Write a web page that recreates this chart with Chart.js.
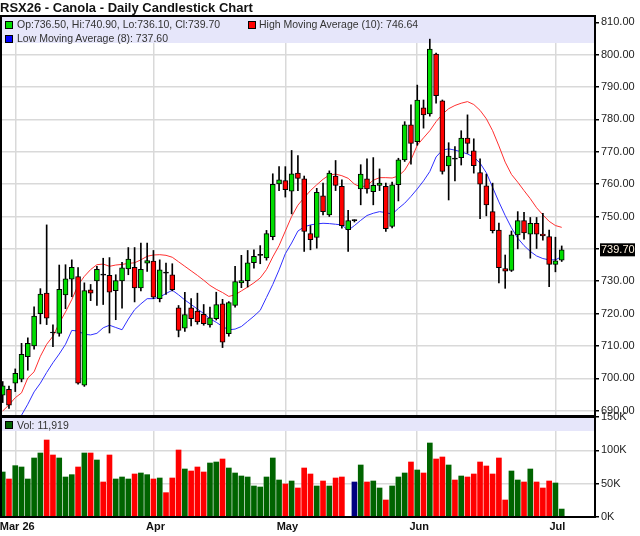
<!DOCTYPE html>
<html>
<head>
<meta charset="utf-8">
<script src="https://cdn.jsdelivr.net/npm/chart.js@4.4.1/dist/chart.umd.min.js"></script>
<style>
  body { margin: 0; background: #fff; font-family: "Liberation Sans", Arial, sans-serif; }
  #wrap { position: relative; width: 640px; height: 536px; overflow: hidden; }
  #priceCv { position: absolute; left: 0; top: 0; }
  #volCv { position: absolute; left: 0; top: 405px; }
  .txt { position: absolute; white-space: nowrap; color: #333; font-size: 10.5px; line-height: 12px; }
  .sq { position: absolute; width: 6px; height: 6px; border: 1px solid #000; }
  #title { position: absolute; left: 0; top: 0; font-size: 13px; font-weight: bold; color: #111; line-height: 16px; white-space: nowrap; }
</style>
</head>
<body>
<div id="wrap">
  <canvas id="priceCv" width="640" height="417"></canvas>
  <canvas id="volCv" width="640" height="131"></canvas>
  <div id="title">RSX26 - Canola - Daily Candlestick Chart</div>
  <div class="sq" style="left:5px;top:21px;background:#00dd00"></div>
  <div class="txt" style="left:17px;top:18px">Op:736.50, Hi:740.90, Lo:736.10, Cl:739.70</div>
  <div class="sq" style="left:248px;top:21px;background:#ff0000"></div>
  <div class="txt" style="left:259px;top:18px">High Moving Average (10): 746.64</div>
  <div class="sq" style="left:5px;top:35px;background:#0000ff"></div>
  <div class="txt" style="left:17px;top:32px">Low Moving Average (8): 737.60</div>
  <div class="sq" style="left:5px;top:421px;background:#006400"></div>
  <div class="txt" style="left:17px;top:419px">Vol: 11,919</div>
</div>
<script>
// daily bars, oldest first
const opens = [694.8,696.6,698.5,699.7,706.7,710.0,720.0,726.3,714.0,713.9,
  725.8,730.6,731.4,697.9,727.3,730.1,731.9,731.8,727.1,730.1,
  733.8,734.3,727.9,735.6,736.2,724.6,732.5,732.0,721.8,715.5,
  721.8,720.8,719.8,716.5,718.4,723.0,713.8,722.5,729.5,730.2,
  735.7,738.0,737.2,743.8,760.1,761.1,757.8,763.4,761.6,744.7,
  743.5,756.4,750.5,762.5,759.3,745.9,748.7,758.5,761.6,757.7,
  759.6,759.3,746.9,759.8,767.5,778.3,773.1,783.6,781.7,800.2,
  785.7,765.6,767.7,768.2,774.2,770.3,763.6,759.5,751.5,745.8,
  733.9,733.3,744.3,748.7,744.5,747.9,744.6,743.8,735.2,736.5];
const highs = [699.0,697.6,702.9,710.8,712.5,722.1,727.7,747.4,716.5,735.0,
  735.1,736.6,734.2,729.5,729.0,734.6,737.1,737.3,732.0,735.8,
  740.4,740.4,741.8,741.8,739.5,736.6,735.6,735.4,722.5,726.6,
  724.6,726.3,722.8,722.0,726.6,724.4,723.7,734.6,738.0,739.5,
  739.7,741.0,745.7,763.2,765.4,765.4,770.4,768.8,762.5,747.2,
  758.7,760.3,764.1,767.3,761.3,751.9,749.0,766.0,767.8,768.2,
  764.7,760.3,760.6,768.0,779.3,784.5,790.6,786.0,804.8,800.5,
  786.0,772.8,771.6,776.5,781.4,774.0,767.8,763.1,760.3,748.0,
  738.1,745.5,751.5,751.3,749.7,749.7,751.0,745.8,743.6,740.9];
const lows = [692.5,690.7,695.9,698.9,702.5,709.0,716.8,716.6,709.8,713.0,
  721.5,725.2,698.2,697.5,724.0,722.5,722.8,714.0,718.1,721.7,
  732.0,723.6,727.0,733.0,724.6,723.6,725.9,727.0,712.8,714.5,
  716.2,716.7,716.4,715.8,718.0,709.5,713.0,722.0,728.0,728.2,
  734.0,735.4,736.5,742.8,758.0,756.0,750.8,758.0,739.2,739.7,
  740.2,750.5,750.0,758.0,746.4,739.2,748.3,753.6,757.2,753.6,
  758.0,745.4,746.5,754.8,767.0,766.2,772.0,777.3,781.0,785.0,
  763.1,755.1,761.0,765.9,769.5,763.4,749.3,750.2,744.9,729.5,
  727.8,733.0,740.0,743.0,737.1,740.1,742.7,728.3,732.9,736.1];
const closes = [697.7,691.7,701.5,707.4,710.8,719.2,726.0,718.6,714.0,727.5,
  730.7,734.3,698.5,727.1,726.3,733.7,731.9,726.6,730.2,734.1,
  736.8,727.9,733.7,736.4,725.1,733.5,732.5,727.4,714.8,719.7,
  718.4,717.4,716.9,718.7,722.8,711.2,723.4,729.9,730.2,735.7,
  737.7,738.0,744.7,759.9,761.3,758.3,763.2,761.8,745.4,742.8,
  757.5,751.5,763.4,759.6,747.2,748.7,748.7,763.1,758.5,759.6,
  760.3,746.2,759.8,767.5,778.3,772.6,786.0,781.4,801.7,787.3,
  763.9,768.7,767.7,774.2,772.6,765.7,760.0,753.6,745.6,734.2,
  733.1,744.3,748.7,744.9,747.9,744.5,744.0,735.2,736.3,739.7];
// volume in thousands
const volumes = [67.5,57,77,75,57,88.5,96,115.5,93,88.5,
  60,63.5,75,96,96,85.5,52.5,93,57,60,
  57,64.5,66,63.5,57,58.5,36.5,58.5,100.5,72,
  69,75,67.5,81,82.5,87,73.5,66,61.5,60,
  46.5,45,60,88.5,55.5,49.5,54,43.5,73.5,64.5,
  46.5,54,46.5,58.5,60,null,52.5,78,52.5,54,
  43.5,25.5,46.5,60,66,82.5,70.5,66,111,87,
  90,78,55.5,61.5,60,64.5,82.5,76.5,64.5,88.5,
  25.5,69,55.5,52.5,72,52.5,43.5,54,51,11.919];
// High Moving Average (10) and Low Moving Average (8)
const hiMA = [689.9,691.8,694.0,695.5,700.1,702.0,706.8,710.5,713.0,717.0,
  720.5,724.3,728.8,731.5,733.6,735.1,735.3,734.6,735.0,735.2,
  735.5,735.7,736.6,737.7,738.1,738.2,738.0,737.4,736.0,734.6,
  733.2,731.8,730.3,728.7,727.5,726.5,725.3,725.8,727.0,728.2,
  729.5,731.0,733.6,737.5,741.0,745.5,750.0,753.5,755.8,758.0,
  759.8,761.5,762.8,763.1,762.6,761.8,760.0,759.1,759.6,761.2,
  762.0,762.0,761.9,762.5,764.3,767.5,772.0,774.3,776.5,779.3,
  781.6,783.3,784.3,785.0,785.5,784.6,782.8,780.2,776.5,771.8,
  766.8,763.0,760.6,758.0,755.5,752.7,750.5,748.5,747.2,746.64];
const loMA = [null,683.5,686.0,688.6,692.0,695.8,698.5,701.8,704.8,707.5,
  710.5,714.8,714.6,713.6,713.4,713.9,715.6,716.4,715.7,715.0,
  718.3,721.2,723.0,724.6,724.6,725.1,726.2,727.2,725.8,724.2,
  722.8,721.4,720.0,718.4,717.3,716.0,715.0,715.2,716.0,717.6,
  719.2,721.0,725.0,729.0,733.5,738.5,741.8,745.5,746.8,747.4,
  747.7,747.9,747.8,747.6,747.4,745.7,747.2,748.8,750.3,751.0,
  751.5,751.2,750.7,752.5,754.1,756.2,758.5,761.0,763.9,768.4,
  770.5,770.9,770.5,770.0,769.3,768.4,766.5,763.5,759.0,754.5,
  750.3,746.5,743.3,741.0,739.2,737.8,737.0,736.6,736.6,737.6];
const monthIdx = [2, 24, 45, 66, 88];
const monthLabels = ['Mar 26', 'Apr', 'May', 'Jun', 'Jul'];
const priceTicks = [690, 700, 710, 720, 730, 740, 750, 760, 770, 780, 790, 800, 810];
const volTicks = [0, 50, 100, 150];

const FONT = '"Liberation Sans", Arial, sans-serif';
const GRID = '#d9d9d9';
const UP = '#00dd00', DOWN = '#ff0000';
const VUP = '#006400', VDOWN = '#ff0000', VFLAT = '#000080';
const X_MIN = -0.27, X_MAX = 94.3;

const idx = closes.map((_, i) => i);
const last = closes.length - 1;

// frame + band plugins
const frame = {
  id: 'frame',
  beforeDatasetsDraw(chart, args, opts) {
    const a = chart.chartArea, c = chart.ctx;
    c.save();
    c.fillStyle = '#e6e6fa';
    c.fillRect(a.left, a.top, a.right - a.left, opts.band);
    c.restore();
  },
  afterDraw(chart) {
    const a = chart.chartArea, c = chart.ctx;
    c.save();
    c.strokeStyle = '#000';
    c.lineWidth = 2;
    c.strokeRect(a.left, a.top, a.right - a.left, a.bottom - a.top);
    c.restore();
  }
};

// last close tag on the price axis
const lastTag = {
  id: 'lastTag',
  afterDraw(chart) {
    const y = chart.scales.y.getPixelForValue(closes[last]);
    const c = chart.ctx;
    c.save();
    c.fillStyle = '#000';
    c.fillRect(600, y - 6.5, 35, 13);
    c.fillStyle = '#fff2e0';
    c.font = '11px ' + FONT;
    c.textBaseline = 'middle';
    c.fillText(closes[last].toFixed(2), 601, y + 0.5);
    c.restore();
  }
};

const xGrid = { color: GRID, lineWidth: 1.5, drawTicks: false, offset: false };

new Chart(document.getElementById('priceCv'), {
  type: 'bar',
  data: {
    datasets: [
      { type: 'line', data: idx.map(i => ({ x: i, y: hiMA[i] })), borderColor: '#ff3030', borderWidth: 1,
        pointRadius: 0, order: 4 },
      { type: 'line', data: idx.map(i => ({ x: i, y: loMA[i] })), borderColor: '#3030ff', borderWidth: 1,
        pointRadius: 0, order: 3 },
      { data: idx.map(i => ({ x: i, y: [lows[i], highs[i]] })), backgroundColor: '#000',
        barThickness: 1, grouped: false, order: 2 },
      { data: idx.map(i => ({ x: i, y: [opens[i], closes[i]] })),
        backgroundColor: idx.map(i => closes[i] > opens[i] ? UP : closes[i] < opens[i] ? DOWN : '#000'),
        borderColor: '#000', borderWidth: 1, borderSkipped: false, minBarLength: 1,
        barThickness: 5, grouped: false, order: 1 }
    ]
  },
  options: {
    responsive: false,
    animation: false,
    layout: { padding: { left: 1, right: 0, top: 16, bottom: 1 } },
    plugins: { legend: { display: false }, tooltip: { enabled: false }, frame: { band: 27 } },
    scales: {
      x: {
        type: 'linear', min: X_MIN, max: X_MAX, offset: false,
        afterBuildTicks: s => { s.ticks = monthIdx.map(v => ({ value: v })); },
        ticks: { display: false },
        grid: xGrid,
        border: { display: false }
      },
      y: {
        position: 'right', min: 688.35, max: 811.95,
        afterBuildTicks: s => { s.ticks = priceTicks.map(v => ({ value: v })); },
        afterFit: s => { s.width = 45; s.paddingTop = 0; s.paddingBottom = 0; },
        ticks: { callback: v => Number(v).toFixed(2), color: '#222', padding: 2, font: { size: 11, family: FONT } },
        grid: { color: GRID, lineWidth: 1.5, tickLength: 4, tickColor: '#000' },
        border: { display: false }
      }
    }
  },
  plugins: [frame, lastTag]
});

new Chart(document.getElementById('volCv'), {
  type: 'bar',
  data: {
    datasets: [{
      data: idx.map(i => ({ x: i, y: volumes[i] })),
      backgroundColor: idx.map(i => i === 0 || closes[i] > closes[i - 1] ? VUP : closes[i] < closes[i - 1] ? VDOWN : VFLAT),
      barThickness: 5
    }]
  },
  options: {
    responsive: false,
    animation: false,
    layout: { padding: { left: 1, right: 0, top: 12, bottom: 0 } },
    plugins: { legend: { display: false }, tooltip: { enabled: false }, frame: { band: 14 } },
    scales: {
      x: {
        type: 'linear', min: X_MIN, max: X_MAX, offset: false,
        afterBuildTicks: s => { s.ticks = monthIdx.map(v => ({ value: v })); },
        afterFit: s => { s.height = 19; s.paddingLeft = 0; s.paddingRight = 0; },
        ticks: { callback: v => monthLabels[monthIdx.indexOf(v)], autoSkip: false, maxRotation: 0,
          labelOffset: 2, padding: 3, color: '#111', font: { size: 11, weight: 'bold', family: FONT } },
        grid: xGrid,
        border: { display: false }
      },
      y: {
        position: 'right', min: 0, max: 150,
        afterBuildTicks: s => { s.ticks = volTicks.map(v => ({ value: v })); },
        afterFit: s => { s.width = 45; s.paddingTop = 0; s.paddingBottom = 0; },
        ticks: { callback: v => v + 'K', color: '#222', padding: 2, font: { size: 11, family: FONT } },
        grid: { color: GRID, lineWidth: 1.5, tickLength: 4, tickColor: '#000' },
        border: { display: false }
      }
    }
  },
  plugins: [frame]
});
</script>
</body>
</html>
